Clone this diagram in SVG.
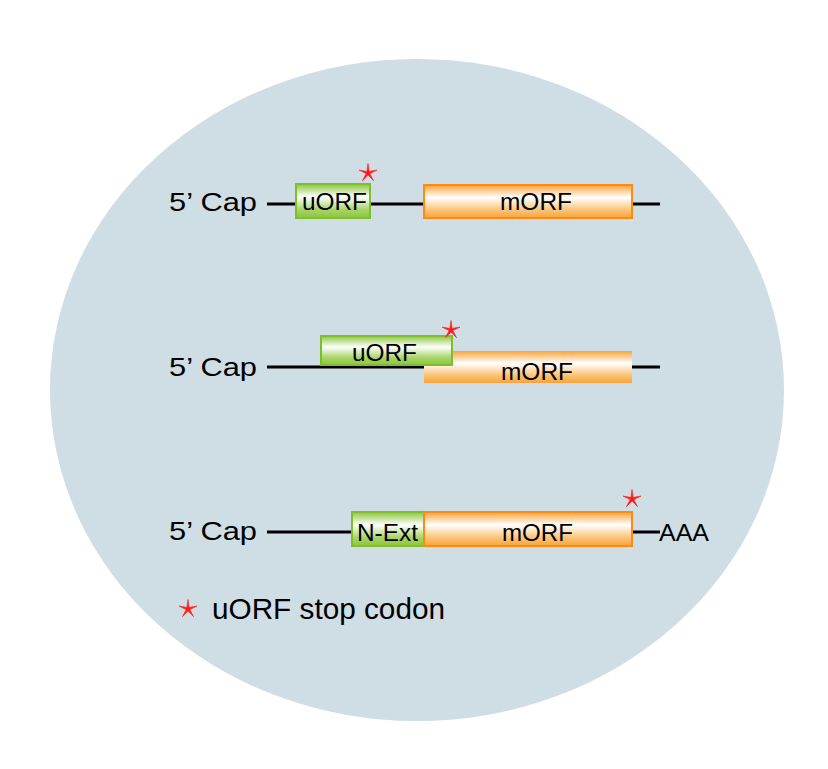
<svg xmlns="http://www.w3.org/2000/svg" width="828" height="769" viewBox="0 0 828 769">
<defs>
<linearGradient id="gGreen" x1="0" y1="0" x2="0" y2="1">
<stop offset="0" stop-color="#8CC63F"/>
<stop offset="0.38" stop-color="#FFFFFF"/>
<stop offset="0.75" stop-color="#A8D466"/>
<stop offset="1" stop-color="#8CC63F"/>
</linearGradient>
<linearGradient id="gOrange" x1="0" y1="0" x2="0" y2="1">
<stop offset="0" stop-color="#F9A338"/>
<stop offset="0.38" stop-color="#FFFFFF"/>
<stop offset="0.75" stop-color="#FBC57A"/>
<stop offset="1" stop-color="#F9A338"/>
</linearGradient>
<polygon id="star" points="0,-9.5 1.1,-1.6 9,-2.9 1.8,0.6 5.6,7.7 0,1.9 -5.6,7.7 -1.8,0.6 -9,-2.9 -1.1,-1.6" fill="#FF1A1A" stroke="#FF1A1A" stroke-width="0.6" stroke-linejoin="round"/>
</defs>
<style>
text{font-family:"Liberation Sans",Arial,sans-serif;fill:#000}
.cap{font-size:26.5px}
.lbl{font-size:23px}
.line{stroke:#000;stroke-width:3.2;fill:none}
.g{fill:url(#gGreen);stroke:#7DBE2A;stroke-width:2}
.o{fill:url(#gOrange);stroke:#FF8A10;stroke-width:2}
.o2{fill:url(#gOrange)}
</style>
<rect width="828" height="769" fill="#FFFFFF"/>
<ellipse cx="417" cy="390" rx="367" ry="331" fill="#CFDDE4"/>
<g id="connectors">
<line class="line" x1="267" y1="204" x2="660" y2="204"/>
<line class="line" x1="267" y1="367" x2="660" y2="367"/>
<line class="line" x1="267" y1="532" x2="660" y2="532"/>
</g>
<g id="row1">
<text class="cap" x="169" y="211" textLength="88" lengthAdjust="spacingAndGlyphs">5’ Cap</text>
<g id="uorf1"><rect class="g" x="296" y="184" width="74" height="34"/><text class="lbl" x="302" y="210" textLength="65" lengthAdjust="spacingAndGlyphs">uORF</text></g>
<g id="morf1"><rect class="o" x="424" y="185" width="208" height="33"/><text class="lbl" x="500" y="210" textLength="72" lengthAdjust="spacingAndGlyphs">mORF</text></g>
<use id="star1" href="#star" x="368" y="173"/>
</g>
<g id="row2">
<text class="cap" x="169" y="376" textLength="88" lengthAdjust="spacingAndGlyphs">5’ Cap</text>
<g id="morf2"><rect class="o2" x="424" y="351" width="208" height="32"/><text class="lbl" x="501" y="380" textLength="72" lengthAdjust="spacingAndGlyphs">mORF</text></g>
<g id="uorf2"><rect class="g" x="321" y="336" width="131" height="29"/><text class="lbl" x="352" y="361" textLength="65" lengthAdjust="spacingAndGlyphs">uORF</text></g>
<use id="star2" href="#star" x="451" y="330"/>
</g>
<g id="row3">
<text class="cap" x="169" y="540" textLength="88" lengthAdjust="spacingAndGlyphs">5’ Cap</text>
<g id="next3"><rect class="g" x="352" y="512" width="72" height="34"/><text class="lbl" x="357" y="541" textLength="61" lengthAdjust="spacingAndGlyphs">N-Ext</text></g>
<g id="morf3"><rect class="o" x="424" y="512" width="208" height="34"/><text class="lbl" x="502" y="541" textLength="71" lengthAdjust="spacingAndGlyphs">mORF</text></g>
<text class="lbl" x="659" y="541" textLength="50" lengthAdjust="spacingAndGlyphs">AAA</text>
<use id="star3" href="#star" x="632" y="499"/>
</g>
<g id="legend">
<use href="#star" x="188" y="609"/>
<text x="212" y="619" font-size="29.5" textLength="233" lengthAdjust="spacingAndGlyphs">uORF stop codon</text>
</g>
</svg>
